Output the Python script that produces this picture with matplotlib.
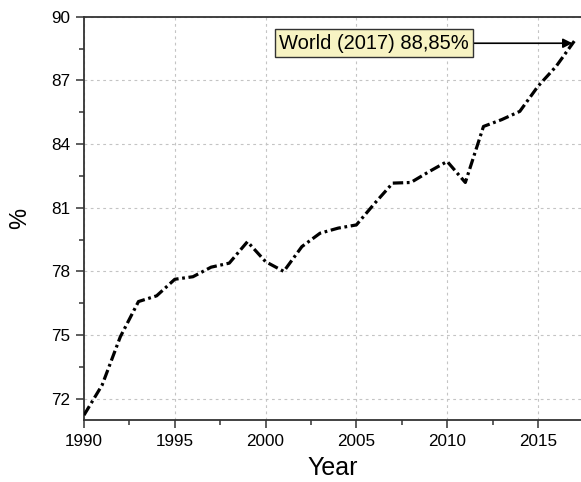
import matplotlib
matplotlib.use("Agg")
import matplotlib.pyplot as plt
from matplotlib.ticker import MultipleLocator

plt.rcParams['font.family'] = ['Liberation Sans', 'DejaVu Sans']
plt.rcParams['lines.scale_dashes'] = False

years = list(range(1990, 2018))
values = [71.23, 72.65, 74.92, 76.58, 76.85, 77.63, 77.75, 78.20, 78.39, 79.40,
          78.46, 78.00, 79.17, 79.80, 80.04, 80.19, 81.20, 82.16, 82.19, 82.70,
          83.18, 82.19, 84.83, 85.15, 85.54, 86.72, 87.66, 88.85]
annot_text = "World (2017) 88,85%"
x_label = "Year"
y_label = "%"
x_ticks = [1990, 1995, 2000, 2005, 2010, 2015]
y_ticks = [72, 75, 78, 81, 84, 87, 90]

fig = plt.figure(figsize=(5.81, 4.82), dpi=100)
ax = fig.add_axes([84/581, 1-420/482, 1-84/581, (420-16.7)/482])

ax.plot(years, values, color='black', lw=2.3, dashes=(7.5, 2.6, 2.0, 2.6),
        solid_capstyle='butt', dash_capstyle='butt', zorder=3)

ax.set_xlim(1990, 2017.37)
ax.set_ylim(71, 90)
ax.set_xticks(x_ticks)
ax.set_yticks(y_ticks)
ax.xaxis.set_minor_locator(MultipleLocator(2.5))
ax.yaxis.set_minor_locator(MultipleLocator(1.5))
ax.tick_params(which='major', direction='out', length=6, width=1.1, color='#333333',
               labelsize=12.3, pad=4)
ax.tick_params(which='minor', direction='out', length=3.5, width=1.1, color='#333333')
ax.tick_params(axis='y', which='both', left=True, right=False)
ax.tick_params(axis='x', which='both', bottom=True, top=False)

ax.grid(True, which='major', color='#c4c4c4', linestyle=(0, (2, 2.5)), linewidth=0.8)
ax.set_axisbelow(True)

for s in ['left', 'bottom', 'top']:
    ax.spines[s].set_color('#333333')
    ax.spines[s].set_linewidth(1.3)
ax.spines['right'].set_visible(False)

ax.set_xlabel(x_label, fontsize=18, labelpad=5)
ax.set_ylabel(y_label, fontsize=17, labelpad=14)

ax.annotate(annot_text, xy=(2016.9, 88.75), xytext=(2011.2, 88.75),
            textcoords='data', ha='right', va='center', fontsize=14.5,
            bbox=dict(boxstyle='square,pad=0.22', fc='#f7f3c3', ec='#333333', lw=1.0),
            arrowprops=dict(arrowstyle='-|>', color='black', lw=1.2,
                            mutation_scale=14, shrinkA=0, shrinkB=0),
            zorder=5)

fig.savefig("out.png", dpi=100)
